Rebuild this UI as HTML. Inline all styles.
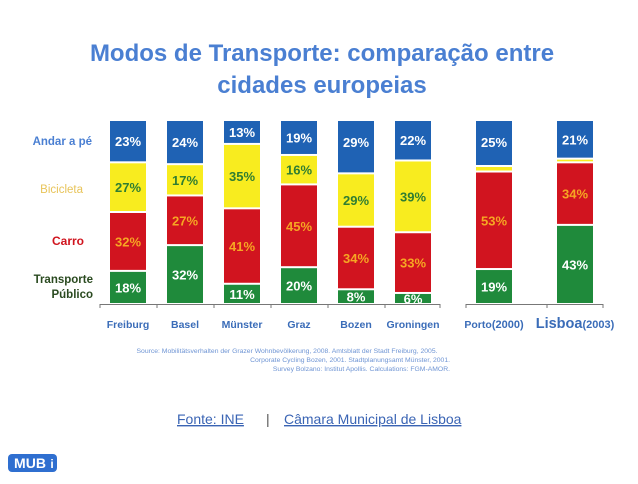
<!DOCTYPE html>
<html><head><meta charset="utf-8"><style>
body{margin:0;width:638px;height:479px;background:#fff;overflow:hidden;font-family:"Liberation Sans",sans-serif;}
</style></head><body>
<svg id="c" width="638" height="479" xmlns="http://www.w3.org/2000/svg">
<text x="322" y="61" text-anchor="middle" font-size="24" font-weight="bold" fill="#4a7fd2">Modos de Transporte: comparação entre</text>
<text x="322" y="93" text-anchor="middle" font-size="24" font-weight="bold" fill="#4a7fd2">cidades europeias</text>
<text x="92" y="145" text-anchor="end" font-size="11.5" font-weight="bold" fill="#4a7fd2">Andar a pé</text>
<text x="83" y="193" text-anchor="end" font-size="11.5" fill="#e8c45a">Bicicleta</text>
<text x="84" y="245" text-anchor="end" font-size="12" font-weight="bold" fill="#d0141e">Carro</text>
<text x="93" y="283" text-anchor="end" font-size="11.5" font-weight="bold" fill="#2a4a20">Transporte</text>
<text x="93" y="298" text-anchor="end" font-size="11.5" font-weight="bold" fill="#2a4a20">Público</text>
<text x="287" y="353" text-anchor="middle" font-size="6.8" fill="#6f95d4">Source: Mobilitätsverhalten der Grazer Wohnbevölkerung, 2008. Amtsblatt der Stadt Freiburg, 2005.</text>
<text x="450" y="362" text-anchor="end" font-size="6.8" fill="#6f95d4">Corporate Cycling Bozen, 2001. Stadtplanungsamt Münster, 2001.</text>
<text x="450" y="371" text-anchor="end" font-size="6.8" fill="#6f95d4">Survey Bolzano: Institut Apollis. Calculations: FGM-AMOR.</text>
<text x="177" y="424" font-size="14" fill="#3a64b4" text-decoration="underline">Fonte: INE</text>
<text x="266" y="424" font-size="14" fill="#555">|</text>
<text x="284" y="424" font-size="14" fill="#3a64b4" text-decoration="underline">Câmara Municipal de Lisboa</text>
<g><rect x="8" y="454" width="49" height="18" rx="4" fill="#2f6fd0"/><text x="30" y="468" text-anchor="middle" font-size="14" font-weight="bold" fill="#fff">MUB</text><text x="52" y="468" text-anchor="middle" font-size="12" font-weight="bold" fill="#fff">i</text></g>
</svg>
<script>
const cities=["Freiburg","Basel","Münster","Graz","Bozen","Groningen","Porto","Lisboa"];
const cityYears=["","","","","","","(2000)","(2003)"];
const transit=[18,32,11,20,8,6,19,43];
const car=[32,27,41,45,34,33,53,34];
const bike=[27,17,35,16,29,39,3,2];
const walk=[23,24,13,19,29,22,25,21];
const showBikeLabel=[true,true,true,true,true,true,false,false];
const svg=document.getElementById('c');
const NS="http://www.w3.org/2000/svg";
const base=304, k=1.84;
function xPos(i){return i<6?110+i*57:476+(i-6)*81;}
const bw=36;
function yScale(v){return v*k;}
function add(tag,attrs){const e=document.createElementNS(NS,tag);for(const a in attrs)e.setAttribute(a,attrs[a]);svg.appendChild(e);return e;}
const ax1=add('path',{d:'M100 304.5H440 M100 304v4 M157 304v4 M214 304v4 M271 304v4 M328 304v4 M385 304v4 M440 304v4',stroke:'#777','stroke-width':1,fill:'none'});


const ax2=add('path',{d:'M466 304.5H603 M466 304v4 M603 304v4 M547 304v4',stroke:'#777','stroke-width':1,fill:'none'});


const series=[[transit,'#1f8a3b','#fff','transit'],[car,'#d1141f','#f6a623','car'],[bike,'#f8ec1f','#2f7d32','bike'],[walk,'#1f62b4','#fff','walk']];
cities.forEach((c,i)=>{
  let y=base;const x=xPos(i);
  series.forEach(([arr,col,tcol,nm])=>{
    const h=yScale(arr[i]);
    const r=add('rect',{x:x,y:y-h+1,width:bw,height:Math.max(h-2,1),fill:col});
    
    
    if(nm!=='bike'||showBikeLabel[i]){
      const ty=(h<20)?y-h/2+5:(nm==='walk'?y-h+Math.min(h/2,22)+5:y-h/2+5);
      const t=add('text',{x:x+bw/2,y:ty,'text-anchor':'middle','font-size':13,'font-weight':'bold',fill:tcol});
      t.textContent=arr[i]+'%';
      
      
    }
    y-=h;
  });
  const t=add('text',{x:x+bw/2,y:328,'text-anchor':'middle','font-weight':'bold',fill:'#3a6cb8','font-size':i===7?14.5:10.5});
  
  
  const s1=document.createElementNS(NS,'tspan');s1.textContent=c;t.appendChild(s1);
  if(cityYears[i]){
    const s2=document.createElementNS(NS,'tspan');s2.setAttribute('font-size','11');s2.textContent=cityYears[i];t.appendChild(s2);
  }
});
</script>
</body></html>
